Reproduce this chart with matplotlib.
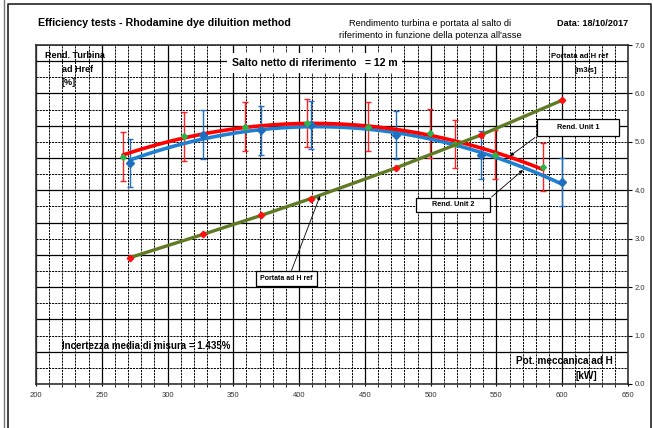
import matplotlib
matplotlib.use('Agg')
import matplotlib.pyplot as plt
import numpy as np
from matplotlib.ticker import MultipleLocator, FormatStrFormatter, NullFormatter
from matplotlib.lines import Line2D
from matplotlib.patches import FancyArrowPatch, Rectangle

plt.rcParams['font.family'] = ['Liberation Sans', 'DejaVu Sans']

# ---------------- data ----------------
# Unit 1 (red): mechanical power [kW] and turbine efficiency [%]
p_unit1 = [266.1, 312.5, 359.2, 406.3, 452.7, 499.4, 518.4, 548.8, 585.3]
eta_unit1 = [84.09, 85.34, 85.94, 86.18, 85.94, 85.53, 84.87, 84.21, 83.46]
# Unit 2 (blue)
p_unit2 = [271.4, 327.0, 371.0, 409.0, 473.3, 538.0, 600.0]
eta_unit2 = [83.70, 85.45, 85.71, 86.05, 85.44, 84.20, 82.50]
# Flow at reference head [m3/s]
q_ref = [2.61, 3.09, 3.48, 3.83, 4.46, 5.14, 5.86]
# measurement uncertainty (half error bar, % points)
eta_err = 1.5

x_ticks = [200, 250, 300, 350, 400, 450, 500, 550, 600, 650]
q_ticks = [0.0, 1.0, 2.0, 3.0, 4.0, 5.0, 6.0, 7.0]

W, H = 653, 428
fig = plt.figure(figsize=(W / 100, H / 100), dpi=100)
fig.patch.set_facecolor('white')

# axes rectangle in pixels
L, R, T, B = 36, 628, 45, 384
ax = fig.add_axes([L / W, (H - B) / H, (R - L) / W, (B - T) / H])
ax.set_xlim(200, 650)
ax.set_ylim(70, 91)
ax.xaxis.set_minor_locator(MultipleLocator(10))
ax.yaxis.set_major_locator(MultipleLocator(2))
ax.yaxis.set_minor_locator(MultipleLocator(1))
ax.set_xticks(x_ticks)
ax.set_xticklabels([str(v) for v in x_ticks])
ax.yaxis.set_major_formatter(NullFormatter())
ax.tick_params(axis='y', which='both', length=0)
ax.tick_params(axis='x', which='major', length=3, width=0.8, labelsize=5.5,
               labelcolor='#333333', pad=4, direction='inout')
ax.tick_params(axis='x', which='minor', length=2, width=0.6, direction='out')
ax.grid(which='major', color='black', lw=0.9, ls='-')
ax.grid(which='minor', color='black', lw=0.7, ls=(0, (2.2, 1.0)))
ax.set_axisbelow(True)
for s in ax.spines.values():
    s.set_color('#333333')
    s.set_linewidth(1.2)

# efficiency curves (quadratic trend lines)
c1 = np.polyfit(p_unit1, eta_unit1, 2)
xx1 = np.linspace(min(p_unit1), max(p_unit1), 200)
c2 = np.polyfit(p_unit2, eta_unit2, 2)
xx2 = np.linspace(min(p_unit2), max(p_unit2), 200)

ax.errorbar(p_unit2, eta_unit2, yerr=eta_err, fmt='none', ecolor='#1f6fc0',
            elinewidth=1.0, capsize=2.2, capthick=1.0, zorder=3)
ax.errorbar(p_unit1, eta_unit1, yerr=eta_err, fmt='none', ecolor='#ff2020',
            elinewidth=1.0, capsize=2.2, capthick=1.0, zorder=3)
ax.plot(xx2, np.polyval(c2, xx2), color='#1f7fd0', lw=2.6, zorder=4,
        solid_capstyle='round')
ax.plot(xx1, np.polyval(c1, xx1), color='#ff0000', lw=2.6, zorder=5,
        solid_capstyle='round')
ax.plot(p_unit2, eta_unit2, ls='none', marker='D', ms=4, color='#1f6fc0',
        zorder=6)
ax.plot(p_unit1, eta_unit1, ls='none', marker='D', ms=3, color='#2db34a',
        zorder=6)

# right axis: flow
ax2 = ax.twinx()
ax2.set_ylim(0, 7)
ax2.set_yticks(q_ticks)
ax2.yaxis.set_major_formatter(FormatStrFormatter('%.1f'))
ax2.tick_params(axis='y', which='major', length=3, width=0.8, labelsize=5.5,
                labelcolor='#333333', pad=2, direction='out')
for s in ax2.spines.values():
    s.set_visible(False)
ax2.plot(p_unit2, q_ref, color='#5e7a22', lw=2.4, zorder=3)
ax2.plot(p_unit2, q_ref, ls='none', marker='D', ms=3.3, color='#ff1010',
         zorder=4)

# ---------------- texts ----------------
def fy(y):
    return H - y

fig.text(38, fy(23), 'Efficiency tests - Rhodamine dye diluition method',
         transform=None, fontsize=7.7, fontweight='bold', va='center', ha='left')
fig.text(430, fy(23), 'Rendimento turbina e portata al salto di',
         transform=None, fontsize=6.7, va='center', ha='center')
fig.text(430, fy(35), "riferimento in funzione della potenza all'asse",
         transform=None, fontsize=6.7, va='center', ha='center')
fig.text(628, fy(24), 'Data: 18/10/2017', transform=None, fontsize=6.6,
         fontweight='bold', va='center', ha='right')

fig.text(45, fy(55), 'Rend. Turbina', transform=None, fontsize=6.5,
         fontweight='bold', va='center', ha='left')
fig.text(62, fy(69), 'ad Href', transform=None, fontsize=6.5,
         fontweight='bold', va='center', ha='left')
fig.text(62, fy(82.5), '[%]', transform=None, fontsize=6.5,
         fontweight='bold', va='center', ha='left')

fig.text(232, fy(63), 'Salto netto di riferimento   = 12 m',
         transform=None, fontsize=7.6, fontweight='bold', va='center',
         ha='left', zorder=20,
         bbox=dict(boxstyle='square,pad=0.45', fc='white', ec='none'))

fig.text(580, fy(57), 'Portata ad H ref', transform=None, fontsize=5.5,
         fontweight='bold', va='center', ha='center')
fig.text(586, fy(71), '[m3/s]', transform=None, fontsize=5.5,
         fontweight='bold', va='center', ha='center')

fig.text(62, fy(346), 'Incertezza media di misura = 1.435%', transform=None,
         fontsize=7.0, fontweight='bold', va='center', ha='left')
fig.text(564, fy(361), 'Pot. meccanica ad H', transform=None, fontsize=7.2,
         fontweight='bold', va='center', ha='center')
fig.text(586, fy(376), '[kW]', transform=None, fontsize=7.2,
         fontweight='bold', va='center', ha='center')

# labelled callouts with arrows (box given as x0, y0, x1, y1 in pixels)
def callout(text, box, target_xy, start_xy, size=5.2):
    x0, y0, x1, y1 = box
    fig.add_artist(Rectangle((x0, fy(y1)), x1 - x0, y1 - y0, transform=None,
                             fc='white', ec='black', lw=0.9, zorder=28))
    fig.text((x0 + x1) / 2, fy((y0 + y1) / 2), text, transform=None,
             fontsize=size, fontweight='bold', ha='center', va='center',
             zorder=30)
    fig.add_artist(FancyArrowPatch(
        (start_xy[0], fy(start_xy[1])), (target_xy[0], fy(target_xy[1])),
        transform=None, arrowstyle='-|>', mutation_scale=5, lw=0.6,
        color='black', zorder=25, shrinkA=0, shrinkB=0))

callout('Rend. Unit 1', (537, 119, 619, 136), (510, 156), (535, 137.5))
callout('Rend. Unit 2', (416, 198, 490, 212), (523, 170), (491.5, 197))
callout('Portata ad H ref', (256, 271, 317, 286), (320, 196), (291.5, 270.5),
        size=5.0)

# outer frame
fig.add_artist(Line2D([8, 8, 651, 651], [0, fy(4), fy(4), 0], transform=None,
                      color='#222222', lw=1.2))
fig.add_artist(Line2D([4, 4], [0, H], transform=None, color='#777777', lw=1.0))

fig.savefig('out.png', dpi=100, facecolor='white')
